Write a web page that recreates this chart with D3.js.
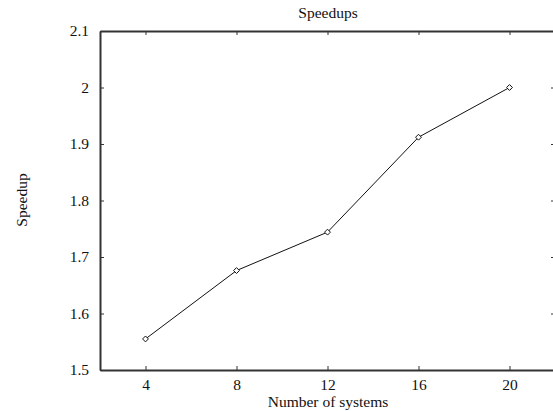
<!DOCTYPE html>
<html>
<head>
<meta charset="utf-8">
<script src="https://cdn.jsdelivr.net/npm/d3@7"></script>
<style>
  body { margin: 0; background: #fff; }
  text { font-family: "Liberation Serif", "Times New Roman", serif; fill: #111; }
</style>
</head>
<body>
<svg id="chart"></svg>
<script>
// Chart data
var systems = [4, 8, 12, 16, 20];
var speedups = [1.555, 1.676, 1.744, 1.912, 2.0];
var xTicks = [4, 8, 12, 16, 20];
var yTicks = [1.5, 1.6, 1.7, 1.8, 1.9, 2, 2.1];

var svgWidth = 553;
var svgHeight = 411;
//Plot box (note: "top" is reserved on window, so use plot* names)
var plotLeft = 100, plotRight = 555, plotTop = 31, plotBottom = 370;

var svg = d3.select("#chart")
    .attr("width", svgWidth)
    .attr("height", svgHeight);

var x = d3.scaleLinear([2, 22], [plotLeft, plotRight]);
var y = d3.scaleLinear([1.5, 2.1], [plotBottom, plotTop]);

//Axes, ticks point inward
var fs = "15.5px";
var xAxis = svg.append("g")
    .attr("transform", "translate(0," + plotBottom + ")")
    .call(d3.axisBottom(x).tickValues(xTicks).tickSizeInner(-4).tickSizeOuter(0).tickPadding(9));
var yAxis = svg.append("g")
    .attr("transform", "translate(" + plotLeft + ",0)")
    .call(d3.axisLeft(y).tickValues(yTicks).tickFormat(d3.format("")).tickSizeInner(-4).tickSizeOuter(0).tickPadding(11));
var xTop = svg.append("g")
    .attr("transform", "translate(0," + plotTop + ")")
    .call(d3.axisTop(x).tickValues(xTicks).tickSizeInner(-4).tickSizeOuter(0).tickFormat(""));
var yRight = svg.append("g")
    .attr("transform", "translate(" + plotRight + ",0)")
    .call(d3.axisRight(y).tickValues(yTicks).tickSizeInner(-4).tickSizeOuter(0).tickFormat(""));

[xAxis, yAxis, xTop, yRight].forEach(function (g) {
    g.select(".domain").attr("stroke", "#333").attr("stroke-width", 2);
    g.selectAll(".tick line").attr("stroke", "#333");
    g.selectAll("text").style("font-size", fs).style("font-family", "Liberation Serif").attr("fill", "#111");
});

//Line and markers
var pts = systems.map(function (d, i) { return [d, speedups[i]]; });
svg.append("path")
    .datum(pts)
    .attr("fill", "none")
    .attr("stroke", "#111")
    .attr("stroke-width", 1)
    .attr("d", d3.line().x(function (d) { return x(d[0]); }).y(function (d) { return y(d[1]); }));

svg.selectAll(".pt")
    .data(pts)
    .enter()
    .append("path")
        .attr("class", "pt")
        .attr("d", d3.symbol(d3.symbolDiamond2, 22))
        .attr("transform", function (d) { return "translate(" + x(d[0]) + "," + y(d[1]) + ")"; })
        .attr("fill", "#fff")
        .attr("stroke", "#111")
        .attr("stroke-width", 1);

//Titles
svg.append("text")
    .attr("x", 328).attr("y", 18)
    .attr("text-anchor", "middle")
    .style("font-size", fs)
    .text("Speedups");
svg.append("text")
    .attr("x", 328).attr("y", 407)
    .attr("text-anchor", "middle")
    .style("font-size", fs)
    .text("Number of systems");
svg.append("text")
    .attr("transform", "translate(27,200) rotate(-90)")
    .attr("text-anchor", "middle")
    .style("font-size", fs)
    .text("Speedup");
</script>
</body>
</html>
